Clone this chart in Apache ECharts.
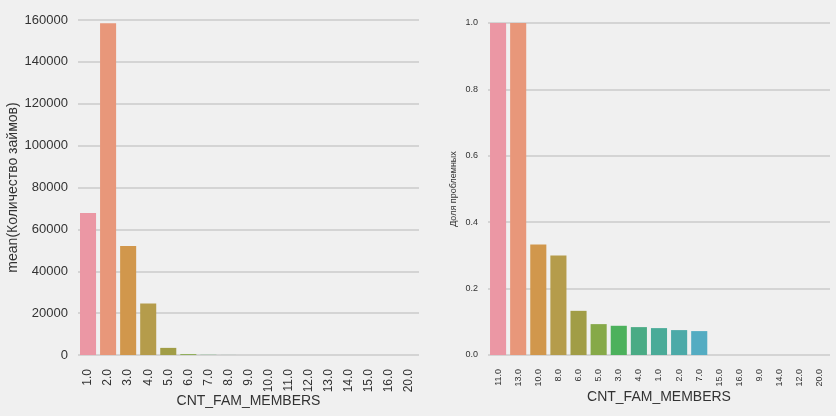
<!DOCTYPE html>
<html>
<head>
<meta charset="utf-8">
<script src="https://cdn.jsdelivr.net/npm/echarts@6/dist/echarts.min.js"></script>
<style>
  html, body { margin: 0; padding: 0; background: #f0f0f0; }
  #chart { width: 836px; height: 416px; }
</style>
</head>
<body>
<div id="chart"></div>
<script>
// Левый график: среднее количество займов по CNT_FAM_MEMBERS
const famMembers = ["1.0", "2.0", "3.0", "4.0", "5.0", "6.0", "7.0", "8.0", "9.0",
  "10.0", "11.0", "12.0", "13.0", "14.0", "15.0", "16.0", "20.0"];
const loanCounts = [67800, 158400, 52100, 24600, 3400, 410, 80, 20, 6, 3, 1, 2, 1, 2, 1, 2, 2];

// Правый график: доля проблемных, отсортировано по убыванию
const sortedMembers = ["11.0", "13.0", "10.0", "8.0", "6.0", "5.0", "3.0", "4.0", "1.0",
  "2.0", "7.0", "15.0", "16.0", "9.0", "14.0", "12.0", "20.0"];
const badShare = [1.0, 1.0, 0.333, 0.3, 0.133, 0.093, 0.088, 0.084, 0.081, 0.075, 0.072, 0, 0, 0, 0, 0, 0];

// палитра husl (seaborn)
const palette = ["#eb97a4", "#e8977a", "#d1974c", "#b59c4b", "#a19d46", "#86a948",
  "#4cb15c", "#4aab85", "#4aab98", "#4caaa8", "#54acc2", "#5aa8d2", "#7aa2e2",
  "#a49ae6", "#c48fe2", "#de8ad2", "#e991bb"];

const chartDom = document.getElementById("chart");
const myChart = echarts.init(chartDom);

const font = "Liberation Sans, Arial, sans-serif";
const gridLine = { show: true, lineStyle: { color: "#cbcbcb", width: 1.5 } };

const option = {
  backgroundColor: "#f0f0f0",
  animation: false,
  textStyle: { fontFamily: font },
  grid: [
    { left: 78, right: 417, top: 20, bottom: 61, containLabel: false, outerBoundsMode: "none" },
    { left: 488, right: 6, top: 23, bottom: 61, containLabel: false, outerBoundsMode: "none" },
  ],
  xAxis: [
    {
      type: "category",
      gridIndex: 0,
      data: famMembers,
      name: "CNT_FAM_MEMBERS",
      nameLocation: "middle",
      nameGap: 39,
      nameMoveOverlap: false,
      nameTextStyle: { fontSize: 14, color: "#333", fontFamily: font },
      axisLine: { show: false },
      axisTick: { show: false },
      axisLabel: { rotate: 90, fontSize: 12, color: "#333", margin: 14, fontFamily: font },
    },
    {
      type: "category",
      gridIndex: 1,
      data: sortedMembers,
      name: "CNT_FAM_MEMBERS",
      nameLocation: "middle",
      nameGap: 35,
      nameMoveOverlap: false,
      nameTextStyle: { fontSize: 14, color: "#333", fontFamily: font },
      axisLine: { show: false },
      axisTick: { show: false },
      axisLabel: { rotate: 90, fontSize: 9, color: "#333", margin: 14, fontFamily: font },
    },
  ],
  yAxis: [
    {
      type: "value",
      gridIndex: 0,
      min: 0,
      max: 160000,
      interval: 20000,
      name: "mean(Количество займов)",
      nameLocation: "middle",
      nameGap: 58,
      nameMoveOverlap: false,
      nameTextStyle: { fontSize: 14, color: "#333", fontFamily: font },
      axisLine: { show: false },
      axisTick: { show: false },
      axisLabel: {
        fontSize: 13, color: "#333", margin: 10, fontFamily: font,
        formatter: (v) => String(v),
      },
      splitLine: gridLine,
    },
    {
      type: "value",
      gridIndex: 1,
      min: 0,
      max: 1.0,
      interval: 0.2,
      name: "Доля проблемных",
      nameLocation: "middle",
      nameGap: 30,
      nameMoveOverlap: false,
      nameTextStyle: { fontSize: 9, color: "#333", fontFamily: font },
      axisLine: { show: false },
      axisTick: { show: false },
      axisLabel: {
        fontSize: 9, color: "#333", margin: 10, fontFamily: font,
        formatter: (v) => v.toFixed(1),
      },
      splitLine: gridLine,
    },
  ],
  series: [
    {
      type: "bar",
      xAxisIndex: 0,
      yAxisIndex: 0,
      barCategoryGap: "20%",
      data: loanCounts.map((v, i) => ({ value: v, itemStyle: { color: palette[i] } })),
    },
    {
      type: "bar",
      xAxisIndex: 1,
      yAxisIndex: 1,
      barCategoryGap: "20%",
      data: badShare.map((v, i) => ({ value: v, itemStyle: { color: palette[i] } })),
    },
  ],
};

myChart.setOption(option);

window.addEventListener("resize", function () {
  myChart.resize();
});
</script>
</body>
</html>
